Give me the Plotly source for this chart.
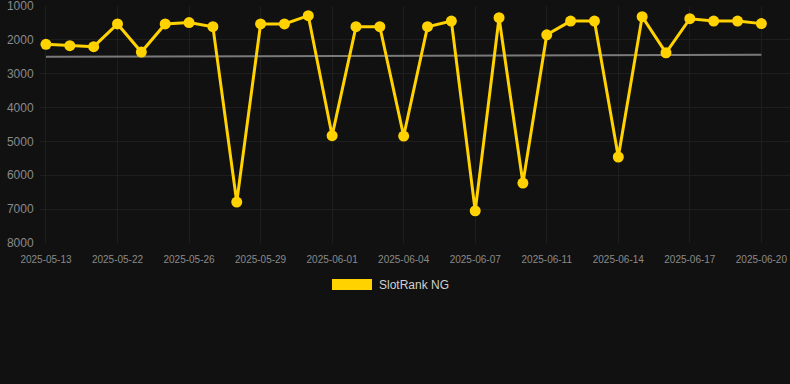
import plotly.graph_objects as go

dates = [
    "2025-05-13", "2025-05-15", "2025-05-18", "2025-05-22", "2025-05-23", "2025-05-24",
    "2025-05-26", "2025-05-27", "2025-05-28", "2025-05-29", "2025-05-30", "2025-05-31",
    "2025-06-01", "2025-06-02", "2025-06-03", "2025-06-04", "2025-06-05", "2025-06-06",
    "2025-06-07", "2025-06-08", "2025-06-10", "2025-06-11", "2025-06-12", "2025-06-13",
    "2025-06-14", "2025-06-15", "2025-06-16", "2025-06-17", "2025-06-18", "2025-06-19",
    "2025-06-20",
]
ranks = [
    2130, 2170, 2200, 1530, 2360, 1530, 1490, 1610, 6790, 1530, 1530, 1285,
    4830, 1610, 1610, 4840, 1610, 1445, 7050, 1345, 6230, 1850, 1445, 1445,
    5460, 1315, 2380, 1375, 1445, 1445, 1520,
]
trend_x = [dates[0], dates[-1]]
trend_y = [2500, 2440]
tick_labels = dates[::3]
y_ticks = [1000, 2000, 3000, 4000, 5000, 6000, 7000, 8000]
series_name = "SlotRank NG"

BG = "#111111"
GOLD = "#FFD200"

fig = go.Figure()
fig.add_trace(go.Scatter(
    x=trend_x, y=trend_y, mode="lines",
    line=dict(color="#7a7a7a", width=2), hoverinfo="skip", showlegend=False,
))
fig.add_trace(go.Scatter(
    x=dates, y=ranks, mode="lines+markers", name=series_name,
    line=dict(color=GOLD, width=3),
    marker=dict(color=GOLD, size=11),
    showlegend=False,
))

fig.add_shape(type="rect", xref="paper", yref="paper",
              x0=(332 - 40) / 750, x1=(372 - 40) / 750,
              y0=-(290 - 243) / 237, y1=-(279 - 243) / 237,
              fillcolor=GOLD, line=dict(width=0))
fig.add_annotation(text=series_name, xref="paper", yref="paper",
                   x=(377 - 40) / 750, y=-(285 - 243) / 237,
                   xanchor="left", yanchor="middle", showarrow=False,
                   font=dict(size=12, color="#d0d0d0"))

fig.update_layout(
    width=790, height=384,
    margin=dict(l=40, r=0, t=6, b=141),
    paper_bgcolor=BG, plot_bgcolor=BG,
    font=dict(family="Liberation Sans, Arial, sans-serif", color="#8a8a8a"),
    xaxis=dict(
        type="category", categoryorder="array", categoryarray=dates,
        range=[-0.25, 31.2],
        tickmode="array", tickvals=tick_labels, ticktext=tick_labels,
        tickfont=dict(size=10, color="#8a8a8a"),
        showgrid=True, gridcolor="#1e1e1e", gridwidth=1,
        zeroline=False, showline=False,
        ticks="outside", ticklen=7, tickcolor="rgba(0,0,0,0)",
    ),
    yaxis=dict(
        range=[8000, 999.5], tickmode="array", tickvals=y_ticks,
        ticktext=[str(v) for v in y_ticks],
        tickfont=dict(size=12, color="#8a8a8a"),
        showgrid=True, gridcolor="#1e1e1e", gridwidth=1,
        zeroline=False, showline=False,
        ticks="outside", ticklen=3, tickcolor="rgba(0,0,0,0)",
        ticklabeloverflow="allow",
    ),
    showlegend=False,
)

fig.write_html("out.html", config={"displayModeBar": False},
               post_script="document.body.style.margin='0';document.body.style.background='#111111';")
